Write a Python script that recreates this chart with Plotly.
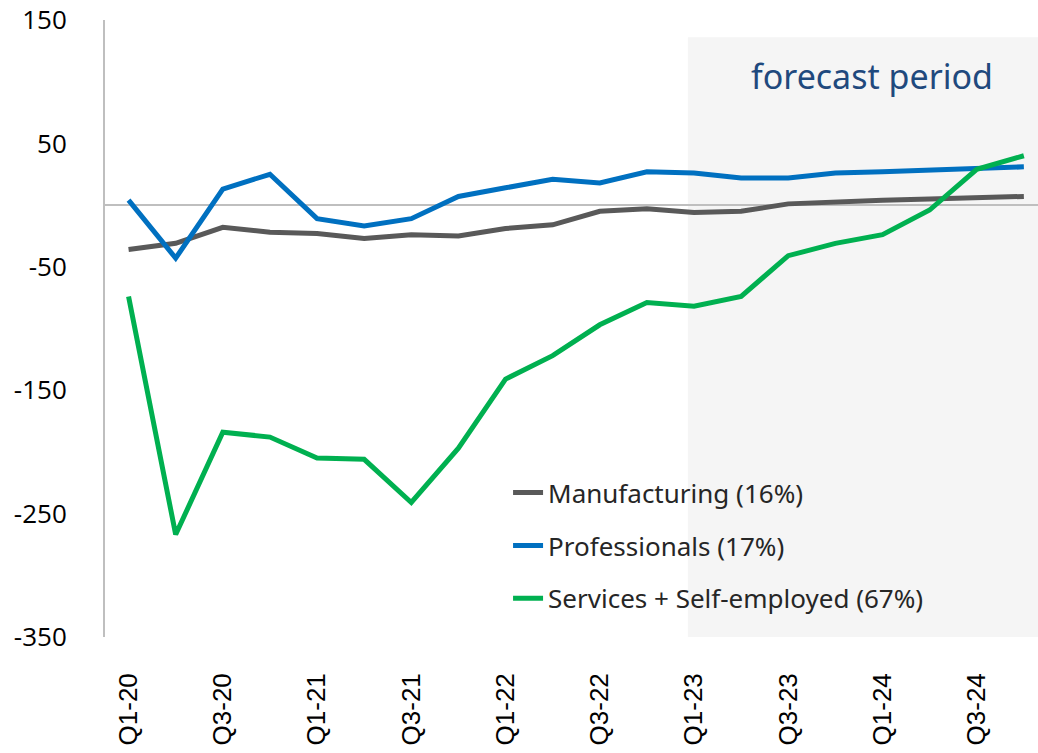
import plotly.graph_objects as go

quarters = ["Q1-20", "Q2-20", "Q3-20", "Q4-20", "Q1-21", "Q2-21", "Q3-21", "Q4-21",
            "Q1-22", "Q2-22", "Q3-22", "Q4-22", "Q1-23", "Q2-23", "Q3-23", "Q4-23",
            "Q1-24", "Q2-24", "Q3-24", "Q4-24"]
manufacturing = [-36, -31, -18, -22, -23, -27, -24, -25, -19, -16, -5, -3,
                 -6, -5, 1, 3, 4, 5, 6, 7]
professionals = [4, -43, 13, 25, -11, -17, -11, 7, 14, 21, 18, 27,
                 26, 22, 22, 26, 27, 28, 30, 31]
services = [-74, -267, -184, -188, -205, -206, -241, -197, -141, -122, -97, -79,
            -82, -74, -41, -31, -24, -4, 29, 40]
series_names = ["Manufacturing (16%)", "Professionals (17%)", "Services + Self-employed (67%)"]
series_colors = ["#595959", "#0070C0", "#00B050"]
y_ticks = [-350, -250, -150, -50, 50, 150]
y_ticktext = ["-350", "-250", "-150", "-50", "50", "150"]
forecast_start = 11.87

x = list(range(len(quarters)))
fig = go.Figure()
for name, vals, col in zip(series_names, [manufacturing, professionals, services], series_colors):
    fig.add_trace(go.Scatter(x=x, y=vals, mode="lines", name=name, legendgroup=name,
                             line=dict(color=col, width=5)))

fig.add_shape(type="rect", xref="x", yref="y", x0=forecast_start, x1=25, y0=-350, y1=136,
              fillcolor="#F5F5F5", line=dict(width=0), layer="below")
fig.add_annotation(x=15.78, y=105, xref="x", yref="y", text="forecast period", showarrow=False,
                   font=dict(family="Noto Sans", size=34, color="#1F497D"))

fig.update_layout(
    width=1038, height=753,
    margin=dict(l=105, r=0, t=20, b=116),
    plot_bgcolor="white", paper_bgcolor="white",
    showlegend=True,
    legend=dict(x=0.432, y=0.272, xanchor="left", yanchor="top",
                font=dict(family="Noto Sans", size=26, color="#262626"),
                bgcolor="rgba(0,0,0,0)", tracegroupgap=16, traceorder="grouped"),
)
fig.update_xaxes(range=[-0.5, 19.3], tickvals=x[::2], ticktext=quarters[::2], tickangle=-90,
                 showgrid=False, zeroline=False, showline=False, ticks="",
                 tickfont=dict(family="Liberation Sans", size=26, color="black"),
                 ticklabelstandoff=30)
fig.update_yaxes(range=[-350, 150], tickvals=y_ticks, ticktext=y_ticktext, showgrid=False,
                 zeroline=True, zerolinecolor="#BFBFBF", zerolinewidth=2,
                 showline=True, linecolor="#BFBFBF", linewidth=2, ticks="",
                 tickfont=dict(family="Open Sans", size=26, color="black"),
                 ticklabelstandoff=31)

fig.write_html("out.html")
